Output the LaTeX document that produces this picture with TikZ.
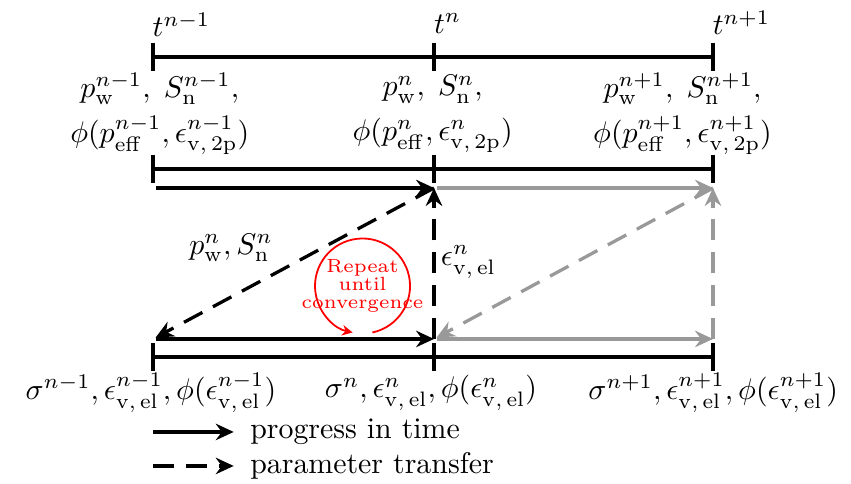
\documentclass[tikz,border=0pt]{standalone}
\usepackage{tikz}
\usetikzlibrary{arrows.meta,positioning,calc}
\usepackage{amsmath}
\definecolor{gr}{RGB}{153,153,153}
\definecolor{rd}{RGB}{255,0,0}
\tikzset{
  tl/.style={line width=1.1pt,color=black},
  tk/.style={line width=1.5pt,color=black},
  pa/.style={-{Stealth[length=6pt,width=5.5pt,inset=2pt]},line width=1.1pt,color=#1},
  pa/.default=black,
  ta/.style={pa=#1,dash pattern=on 7pt off 4pt},
  ta/.default=black,
  lb/.style={inner sep=0pt,align=center},
}
\begin{document}
\begin{tikzpicture}
  \useasboundingbox (0,0) rectangle (10.012,5.694);
  % time axis and the two levels
  \foreach \y in {5.024,3.706,1.494}{
    \draw[tl] (1.800,\y) -- (8.388,\y);
    \foreach \x in {1.800,5.106,8.388}
      \draw[tk] (\x,\y-0.165) -- (\x,\y+0.165);
  }
  \node[lb,anchor=base west] (t0) at (1.79,5.259) {$t^{n-1}$};
  \node[lb,anchor=base west] (t1) at (5.10,5.300) {$t^{n}$};
  \node[lb,anchor=base west] (t2) at (8.38,5.282) {$t^{n+1}$};

  \node[lb] (s0) at (1.88,4.355)
    {$p_\mathrm{w}^{n-1},\; S_\mathrm{n}^{n-1},$\\[3pt]$\phi(p_\mathrm{eff}^{n-1},\epsilon_\mathrm{v,\,2p}^{n-1})$};
  \node[lb] (s1) at (5.09,4.355)
    {$p_\mathrm{w}^{n},\; S_\mathrm{n}^{n},$\\[3pt]$\phi(p_\mathrm{eff}^{n},\epsilon_\mathrm{v,\,2p}^{n})$};
  \node[lb] (s2) at (8.03,4.355)
    {$p_\mathrm{w}^{n+1},\; S_\mathrm{n}^{n+1},$\\[3pt]$\phi(p_\mathrm{eff}^{n+1},\epsilon_\mathrm{v,\,2p}^{n+1})$};

  \node[lb] (m0) at (1.776,1.07) {$\sigma^{n-1},\epsilon_\mathrm{v,\,el}^{n-1},\phi(\epsilon_\mathrm{v,\,el}^{n-1})$};
  \node[lb] (m1) at (5.07,1.07) {$\sigma^{n},\epsilon_\mathrm{v,\,el}^{n},\phi(\epsilon_\mathrm{v,\,el}^{n})$};
  \node[lb] (m2) at (8.39,1.07) {$\sigma^{n+1},\epsilon_\mathrm{v,\,el}^{n+1},\phi(\epsilon_\mathrm{v,\,el}^{n+1})$};

  % arrow ends
  \coordinate (u0) at (1.800,3.482);
  \coordinate (u1) at (5.106,3.482);
  \coordinate (u2) at (8.388,3.482);
  \coordinate (l0) at (1.800,1.706);
  \coordinate (l1) at (5.106,1.706);
  \coordinate (l2) at (8.388,1.706);

  \draw[pa,shorten <=1pt] (u0) -- (u1);
  \draw[pa=gr,shorten <=1pt] (u1) -- (u2);
  \draw[pa,shorten <=1pt] (l0) -- (l1);
  \draw[pa=gr,shorten <=1pt] (l1) -- (l2);

  \draw[ta,shorten >=1pt] (u1) -- (l0);
  \draw[ta] (l1) -- (u1);
  \draw[ta=gr,shorten >=1pt] (u2) -- (l1);
  \draw[ta=gr] (l2) -- (u2);

  \node[lb] (dl) at (2.718,2.776) {$p_\mathrm{w}^n, S_\mathrm{n}^n$};
  \node[lb,anchor=west] (el) at (5.18,2.612) {$\epsilon_\mathrm{v,\,el}^n$};

  % iteration loop
  \node[lb,font=\fontsize{6.4}{6}\selectfont,text=rd] (rep) at (4.265,2.329) {Repeat\\until\\convergence};
  \draw[rd,line width=0.6pt,-{Stealth[length=3.5pt,width=3.5pt]}]
    (rep.center) ++(-78:0.559) arc[start angle=-78,end angle=258,radius=0.559];

  % legend
  \coordinate (k1) at (1.800,0.612);
  \coordinate (k2) at (1.800,0.212);
  \node[anchor=west] (leg1) at (2.82,0.612) {progress in time};
  \node[anchor=west] (leg2) at (2.82,0.212) {parameter transfer};
  \draw[pa,shorten >=2pt] (k1) -- (leg1.west);
  \draw[ta,shorten >=2pt] (k2) -- (leg2.west);
\end{tikzpicture}
\end{document}
